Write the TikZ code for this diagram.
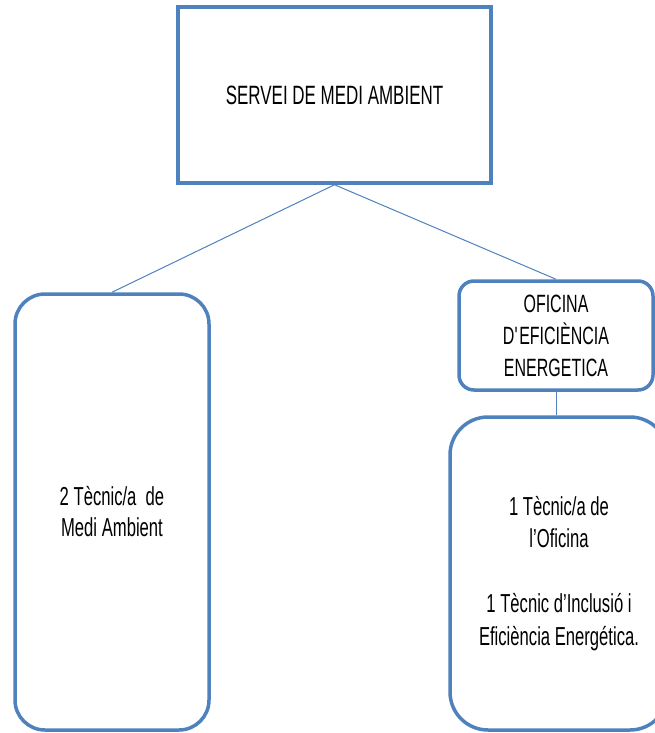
\documentclass[tikz,border=0pt]{standalone}
\usepackage{fontspec}
\setmainfont{Liberation Sans}[FakeStretch=0.64]
\usepackage{tikz}
\definecolor{officeblue}{RGB}{79,129,189}

\begin{document}
\begin{tikzpicture}[x=1pt, y=-1pt,
        unitbox/.style={draw=officeblue, line width=3.5pt, align=center,
            inner sep=0pt, text=black},
        link/.style={draw=officeblue, line width=1pt}]
            \useasboundingbox (0, 0) rectangle (655, 733);

            \node [unitbox, minimum width=313, minimum height=176,
                   font=\fontsize{26.5}{31}\selectfont] (servei) at (334.5, 95)
                  {SERVEI DE MEDI AMBIENT};

            \node [unitbox, rounded corners=30, minimum width=194, minimum height=436,
                   font=\fontsize{26}{31}\selectfont] (tecnics) at (112, 512)
                  {2 Tècnic/a \ de\\Medi Ambient};

            \node [unitbox, rounded corners=15, minimum width=194, minimum height=109,
                   font=\fontsize{25}{32}\selectfont] (oficina) at (556, 335.5)
                  {OFICINA\\D\textquotesingle EFICIÈNCIA\\ENERGETICA};

            \node [unitbox, rounded corners=38, minimum width=218, minimum height=313,
                   font=\fontsize{26}{32.5}\selectfont] (personal) at (559, 573.5)
                  {1 Tècnic/a de\\l’Oficina\\[32.5pt]1 Tècnic d’Inclusió i\\Eficiència Energética.};

            \draw [link] (servei.south) to (tecnics.north);
            \draw [link] (servei.south) to (oficina.north);
            \draw [link] (oficina.south) to (oficina.south |- personal.north);

        \end{tikzpicture}
\end{document}
